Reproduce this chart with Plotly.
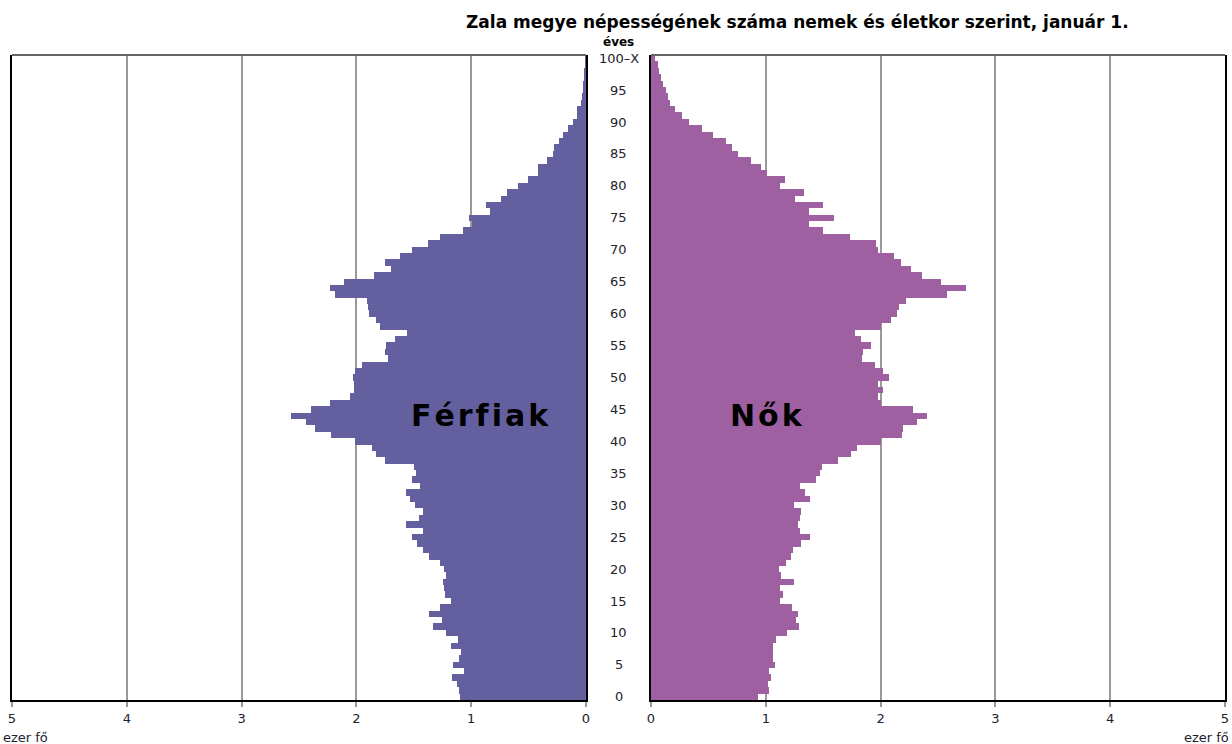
import plotly.graph_objects as go

ages = list(range(0, 101))

male = [1.10, 1.11, 1.125, 1.168, 1.067, 1.16, 1.107, 1.09, 1.177, 1.116,
        1.217, 1.333, 1.258, 1.371, 1.27, 1.174, 1.229, 1.235, 1.249, 1.22,
        1.235, 1.275, 1.371, 1.423, 1.472, 1.516, 1.42, 1.568, 1.458, 1.42,
        1.493, 1.536, 1.565, 1.443, 1.516, 1.478, 1.501, 1.754, 1.826, 1.864,
        2.015, 2.22, 2.357, 2.435, 2.574, 2.394, 2.226, 2.052, 2.017, 2.017,
        2.029, 2.015, 1.951, 1.728, 1.754, 1.742, 1.661, 1.559, 1.791, 1.826,
        1.89, 1.90, 1.91, 2.188, 2.226, 2.104, 1.843, 1.699, 1.754, 1.623,
        1.516, 1.38, 1.27, 1.075, 0.994, 1.023, 0.835, 0.87, 0.739, 0.69,
        0.594, 0.507, 0.415, 0.415, 0.342, 0.284, 0.278, 0.232, 0.197, 0.154,
        0.11, 0.081, 0.075, 0.043, 0.032, 0.029, 0.023, 0.014, 0.009, 0.006,
        0.006]

female = [0.933, 1.029, 1.02, 1.043, 1.032, 1.078, 1.064, 1.061, 1.061, 1.087,
          1.188, 1.29, 1.261, 1.281, 1.229, 1.122, 1.148, 1.122, 1.246, 1.13,
          1.113, 1.174, 1.223, 1.238, 1.304, 1.383, 1.296, 1.281, 1.296, 1.31,
          1.246, 1.383, 1.339, 1.296, 1.441, 1.475, 1.493, 1.629, 1.745, 1.794,
          2.0, 2.186, 2.194, 2.316, 2.403, 2.284, 2.0, 1.977, 2.023, 1.977,
          2.07, 2.023, 1.948, 1.838, 1.846, 1.919, 1.832, 1.774, 2.0, 2.093,
          2.145, 2.157, 2.217, 2.58, 2.74, 2.528, 2.362, 2.267, 2.18, 2.116,
          1.977, 1.962, 1.736, 1.499, 1.377, 1.594, 1.377, 1.499, 1.258, 1.333,
          1.122, 1.165, 1.014, 0.954, 0.87, 0.754, 0.707, 0.649, 0.542, 0.441,
          0.33, 0.272, 0.209, 0.165, 0.151, 0.128, 0.107, 0.087, 0.07, 0.058,
          0.035]

age_tick_vals = [0, 5, 10, 15, 20, 25, 30, 35, 40, 45, 50, 55, 60, 65, 70, 75, 80, 85, 90, 95, 100]
age_tick_text = ["0", "5", "10", "15", "20", "25", "30", "35", "40", "45", "50",
                 "55", "60", "65", "70", "75", "80", "85", "90", "95", "100–X"]
x_tick_vals = [0, 1, 2, 3, 4, 5]
x_tick_text = ["0", "1", "2", "3", "4", "5"]

title_text = "Zala megye népességének száma nemek és életkor szerint, január 1."
male_label = "Férfiak"
female_label = "Nők"
unit_label = "ezer fő"
age_unit = "éves"

MALE_COLOR = "#6460A0"
FEMALE_COLOR = "#9E60A0"
FONT = "DejaVu Sans"
TXT = "#22222e"

fig = go.Figure()
fig.add_trace(go.Bar(y=ages, x=male, orientation="h", marker=dict(color=MALE_COLOR, line=dict(width=0)),
                     xaxis="x", yaxis="y", showlegend=False, hoverinfo="x+y"))
fig.add_trace(go.Bar(y=ages, x=female, orientation="h", marker=dict(color=FEMALE_COLOR, line=dict(width=0)),
                     xaxis="x2", yaxis="y2", showlegend=False, hoverinfo="x+y"))

d1 = (586 - 12) / 1213
d2 = (651 - 12) / 1213

xcommon = dict(tickvals=x_tick_vals, ticktext=x_tick_text, showgrid=True, gridcolor="#9a9a9a",
               gridwidth=2, zeroline=False, showline=True, linecolor="black", linewidth=2,
               ticks="outside", ticklen=5, tickwidth=2, tickcolor="#9a9a9a",
               tickfont=dict(family=FONT, size=13, color=TXT))
ycommon = dict(range=[-0.5, 100.5], showticklabels=False, showgrid=False, zeroline=False,
               showline=True, mirror=True, linecolor="black", linewidth=2, ticks="")

fig.update_layout(
    width=1232, height=744,
    margin=dict(l=12, r=7, t=55, b=44, autoexpand=False),
    paper_bgcolor="white", plot_bgcolor="white",
    bargap=0,
    xaxis=dict(domain=[0, d1], range=[5, 0], anchor="y", **xcommon),
    xaxis2=dict(domain=[d2, 1], range=[0, 5], anchor="y2", **xcommon),
    yaxis=dict(domain=[0, 1], anchor="x", **ycommon),
    yaxis2=dict(domain=[0, 1], anchor="x2", matches="y", **ycommon),
)

annotations = []
for v, t in zip(age_tick_vals, age_tick_text):
    annotations.append(dict(x=0.5, xref="paper", y=v, yref="y", text=t, showarrow=False,
                            xanchor="center", yanchor="middle",
                            font=dict(family=FONT, size=13, color=TXT)))
annotations.append(dict(x=0.5, xref="paper", y=(700 - 42) / 645, yref="paper", text="<b>" + age_unit + "</b>",
                        showarrow=False, xanchor="center", yanchor="middle",
                        font=dict(family=FONT, size=12, color="black")))
annotations.append(dict(x=(797 - 12) / 1213, xref="paper", y=(700 - 22) / 645, yref="paper",
                        text="<b>" + title_text + "</b>", showarrow=False, xanchor="center", yanchor="middle",
                        font=dict(family=FONT, size=17, color="black")))
annotations.append(dict(x=-11 / 1213, xref="paper", y=(700 - 737) / 645, yref="paper", text=unit_label,
                        showarrow=False, xanchor="left", yanchor="middle",
                        font=dict(family=FONT, size=13, color=TXT)))
annotations.append(dict(x=1219 / 1213, xref="paper", y=(700 - 737) / 645, yref="paper", text=unit_label,
                        showarrow=False, xanchor="right", yanchor="middle",
                        font=dict(family=FONT, size=13, color=TXT)))
hair = "\u200a"
annotations.append(dict(x=0.92, xref="x", y=44, yref="y", text="<b>" + hair.join(male_label) + "</b>",
                        showarrow=False, xanchor="center", yanchor="middle",
                        font=dict(family=FONT, size=30, color="black")))
annotations.append(dict(x=1.01, xref="x2", y=44, yref="y2", text="<b>" + hair.join(female_label) + "</b>",
                        showarrow=False, xanchor="center", yanchor="middle",
                        font=dict(family=FONT, size=30, color="black")))
fig.update_layout(annotations=annotations)

fig.update_layout(shapes=[
    dict(type="line", xref="paper", yref="paper", x0=0, x1=d1, y0=1, y1=1, line=dict(color="#666666", width=2)),
    dict(type="line", xref="paper", yref="paper", x0=d2, x1=1, y0=1, y1=1, line=dict(color="#666666", width=2)),
])

fig.write_html("out.html", config={"displayModeBar": False},
               post_script="document.body.style.margin='0';document.body.style.padding='0';")
